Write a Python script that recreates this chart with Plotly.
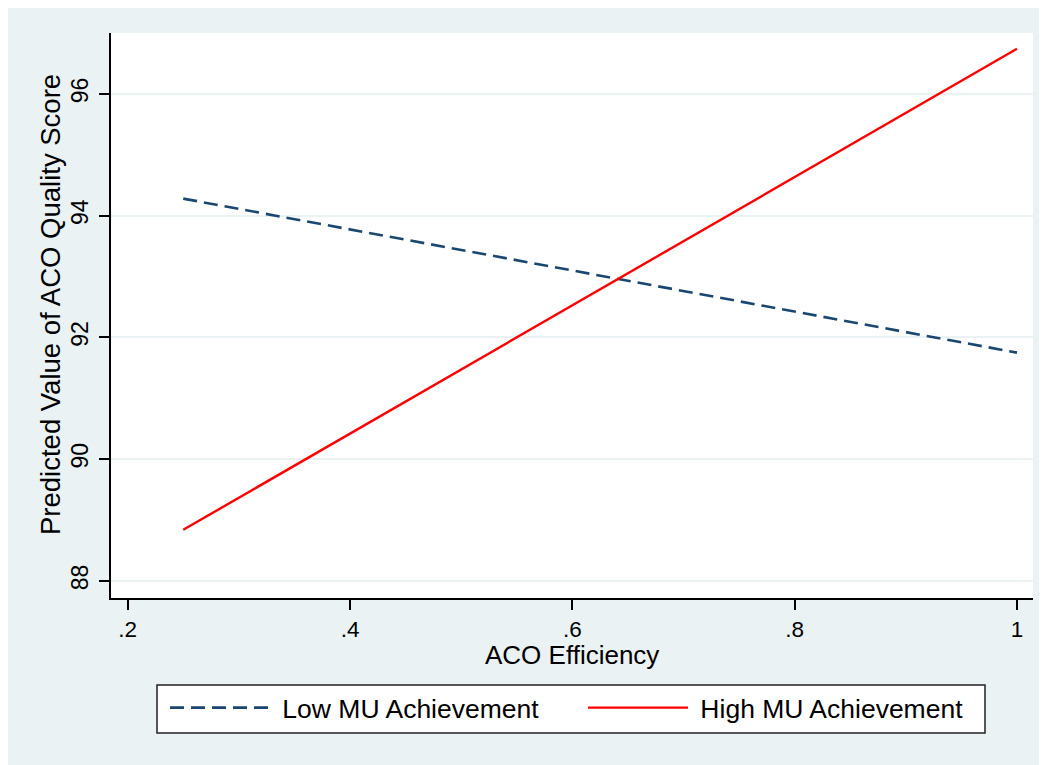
import plotly.graph_objects as go

x_vals = [0.25, 1.0]
low_mu = [94.28, 91.75]
high_mu = [88.84, 96.74]
x_ticks = [0.2, 0.4, 0.6, 0.8, 1.0]
x_ticklabels = [".2", ".4", ".6", ".8", "1"]
y_ticks = [88, 90, 92, 94, 96]
y_ticklabels = ["88", "90", "92", "94", "96"]

# the page body adds an 8px offset; the figure fills the rest of the window
OFF = 8
W, H = 1047 - OFF, 765 - OFF
PL, PR, PT, PB = 111, 1033, 33, 598          # plot area in window pixels
ML, MT = PL - OFF, PT - OFF
MR = W - (PR - OFF)
MB = H - (PB - OFF)
PW, PH = PR - PL, PB - PT


def px_x(px):
    return (px - PL) / PW


def px_y(py):
    return (PB - py) / PH


BG = "#EAF2F3"
FONT = "Liberation Sans, Arial, sans-serif"
NB = "\u00a0"

fig = go.Figure()
fig.add_trace(go.Scatter(x=x_vals, y=low_mu, mode="lines", name=NB + "Low MU Achievement",
                         line=dict(color="#1A476F", width=2.6, dash="14px,7px")))
fig.add_trace(go.Scatter(x=x_vals, y=high_mu, mode="lines", name=NB + "High MU Achievement",
                         line=dict(color="#FF0000", width=2.4)))

# legend frame
fig.add_shape(type="rect", xref="paper", yref="paper",
              x0=px_x(157), x1=px_x(985), y0=px_y(733), y1=px_y(685),
              line=dict(color="#222222", width=1.5), fillcolor="white", layer="above")

fig.add_annotation(text="ACO Efficiency", xref="paper", yref="paper",
                   x=px_x(572), y=px_y(655), xanchor="center", yanchor="middle",
                   showarrow=False, borderpad=0, font=dict(size=26, color="black"))
fig.add_annotation(text="Predicted Value of ACO Quality Score", xref="paper", yref="paper",
                   x=px_x(50), y=px_y(305), xanchor="center", yanchor="middle", textangle=-90,
                   showarrow=False, borderpad=0, font=dict(size=27.5, color="black"))

fig.update_layout(
    width=W, height=H,
    margin=dict(l=ML, r=MR, t=MT, b=MB, autoexpand=False),
    paper_bgcolor=BG, plot_bgcolor="white",
    font=dict(family=FONT, size=23, color="black"),
    showlegend=True,
    legend=dict(orientation="h", x=px_x(165), xanchor="left", y=-0.152, yanchor="top",
                bgcolor="rgba(0,0,0,0)", borderwidth=0,
                font=dict(size=26.5, color="black"),
                itemwidth=100, entrywidth=303, entrywidthmode="pixels",
                traceorder="normal"),
    xaxis=dict(range=[0.185, 1.0144], tickvals=x_ticks, ticktext=x_ticklabels,
               showgrid=False, zeroline=False, showline=True, linecolor="black", linewidth=1.5,
               ticks="outside", ticklen=10, tickwidth=1.5, tickcolor="black",
               tickfont=dict(size=22.5), automargin=False),
    yaxis=dict(range=[87.72, 97.0], tickvals=y_ticks, ticktext=y_ticklabels,
               showgrid=True, gridcolor=BG, gridwidth=2, zeroline=False,
               showline=True, linecolor="black", linewidth=1.5,
               ticks="outside", ticklen=10, tickwidth=1.5, tickcolor="black",
               tickangle=-90, tickfont=dict(size=23), automargin=False,
               ticklabelstandoff=2),
)

fig.write_html("out.html")
